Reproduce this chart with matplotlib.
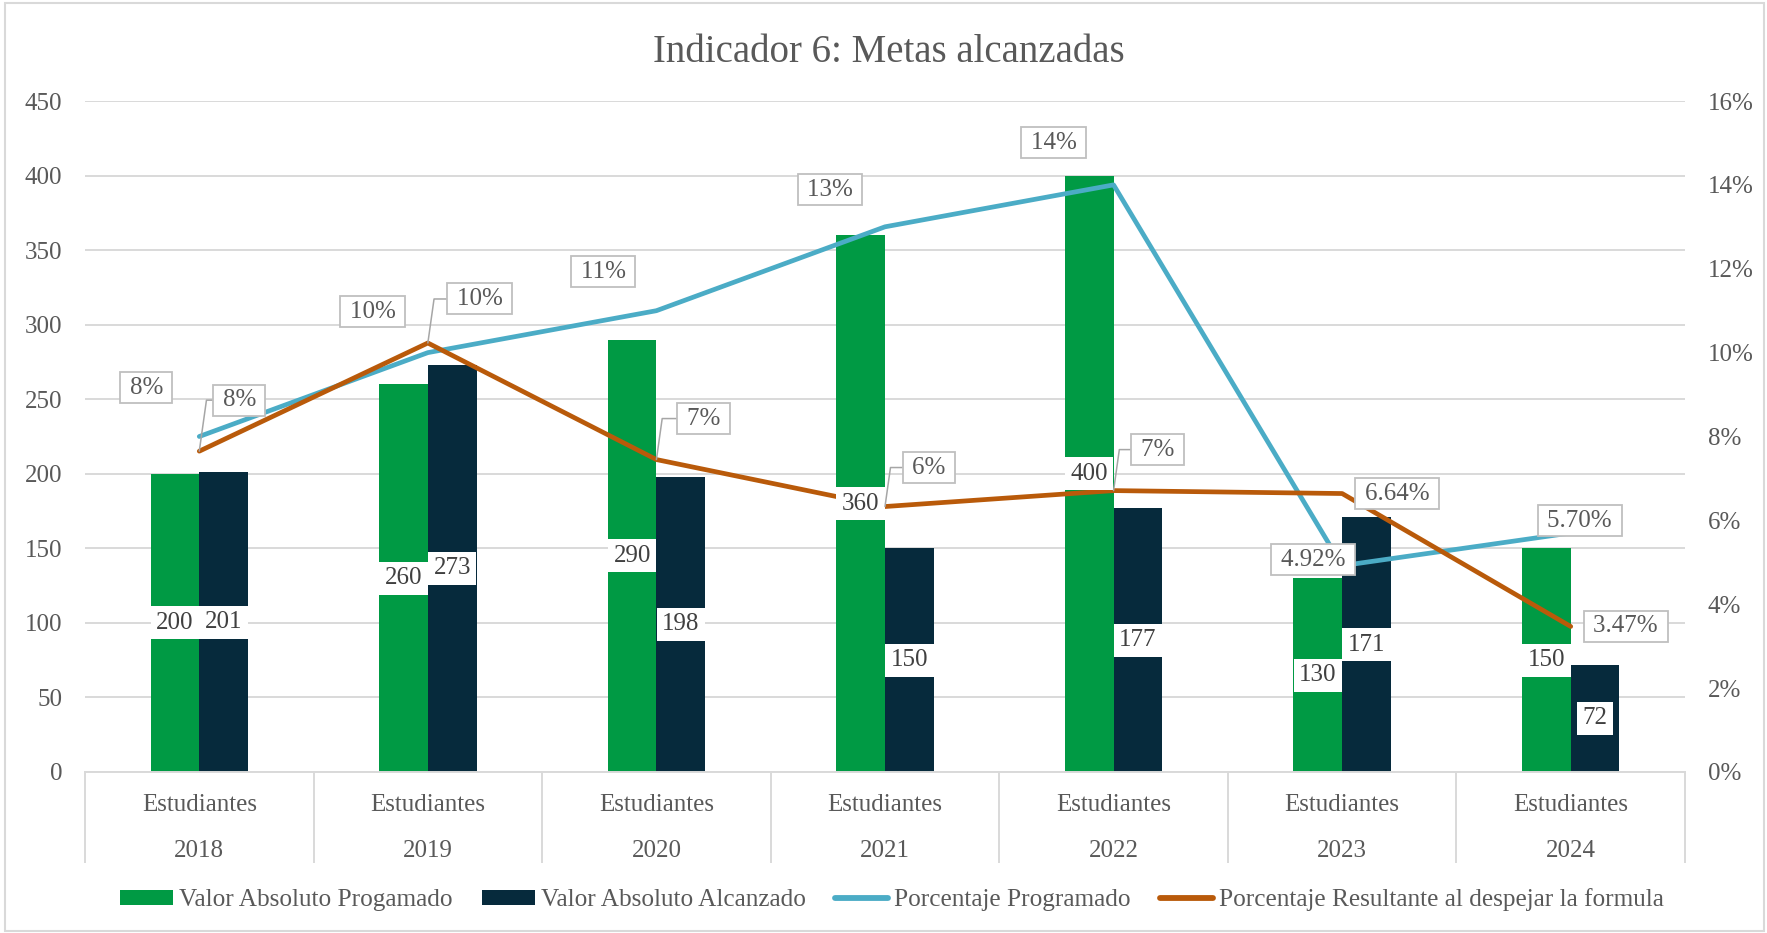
import matplotlib
matplotlib.use("Agg")
import matplotlib.pyplot as plt
import matplotlib.transforms as mtransforms
from matplotlib.patches import Rectangle, Patch
from matplotlib.lines import Line2D
from matplotlib.ticker import FuncFormatter

# ---------------- data ----------------
title = "Indicador 6: Metas alcanzadas"
categories = ["Estudiantes"] * 7
years = ["2018", "2019", "2020", "2021", "2022", "2023", "2024"]
programado = [200, 260, 290, 360, 400, 130, 150]
alcanzado = [201, 273, 198, 150, 177, 171, 72]
pct_programado = [8.0, 10.0, 11.0, 13.0, 14.0, 4.92, 5.70]
pct_resultante = [7.65, 10.23, 7.45, 6.33, 6.71, 6.64, 3.47]
pct_prog_labels = ["8%", "10%", "11%", "13%", "14%", "4.92%", "5.70%"]
pct_res_labels = ["8%", "10%", "7%", "6%", "7%", "6.64%", "3.47%"]
left_ticks = [0, 50, 100, 150, 200, 250, 300, 350, 400, 450]
right_ticks = [0, 2, 4, 6, 8, 10, 12, 14, 16]
series_names = ["Valor Absoluto Progamado", "Valor Absoluto Alcanzado",
                "Porcentaje Programado", "Porcentaje Resultante al despejar la formula"]

# ---------------- layout / style ----------------
W, H = 1767, 933
GREEN = "#009A44"
NAVY = "#062A3C"
BLUE = "#4BACC6"
ORANGE = "#B95A0A"
GRID = "#D9D9D9"
TXT = "#595959"
LBL = "#404040"
FS = 18

# label offsets in output pixels (dx, dy with y up)
prog_offsets = [(-53, 49), (-55, 41), (-53, 39), (-55, 37), (-60, 42), (-29, 6), (9, 12)]
res_offsets = [(40, 51), (52, 44), (47, 41), (44, 39), (44, 41), (55, 0), (55, 0)]
res_leader = [True, True, True, True, True, False, False]

plt.rcParams["font.family"] = ["Liberation Serif", "DejaVu Serif"]

fig = plt.figure(figsize=(W / 100, H / 100), dpi=100)
fig.patch.set_facecolor("white")
fig.patches.append(Rectangle((5 / W, 2 / H), 1 - 8 / W, 1 - 5 / H, transform=fig.transFigure,
                             fill=False, edgecolor=GRID, lw=1.5))

ax_l, ax_r, ax_t, ax_b = 85, 1685, 101, 772
ax = fig.add_axes([ax_l / W, 1 - ax_b / H, (ax_r - ax_l) / W, (ax_b - ax_t) / H])
ax2 = ax.twinx()

x = list(range(len(years)))
bw = 0.213
xg = [i - bw / 2 for i in x]
xn = [i + bw / 2 for i in x]

ax.bar(xg, programado, bw, color=GREEN, zorder=2, linewidth=0)
ax.bar(xn, alcanzado, bw, color=NAVY, zorder=2, linewidth=0)

ax.set_xlim(-0.5, len(years) - 0.5)
ax.set_ylim(0, 450)
ax.set_yticks(left_ticks)
ax.yaxis.grid(True, color=GRID, lw=1.4)
ax.set_axisbelow(True)
ax.set_xticks([])
for s in ["top", "left", "right"]:
    ax.spines[s].set_visible(False)
ax.spines["bottom"].set_color(GRID)
ax.spines["bottom"].set_linewidth(1.4)
ax.tick_params(axis="y", length=0, pad=16.5, labelsize=FS, labelcolor=TXT)

ax2.set_ylim(0, 16)
ax2.set_yticks(right_ticks)
ax2.yaxis.set_major_formatter(FuncFormatter(lambda v, p: f"{int(v)}%"))
ax2.tick_params(axis="y", length=0, pad=16.5, labelsize=FS, labelcolor=TXT)
for s in ax2.spines.values():
    s.set_visible(False)

ax2.plot(x, pct_programado, color=BLUE, lw=3.4, solid_capstyle="round",
         solid_joinstyle="round", zorder=3)
ax2.plot(x, pct_resultante, color=ORANGE, lw=3.4, solid_capstyle="round",
         solid_joinstyle="round", zorder=3)

# bar value labels (centered)
for xs, vals in ((xg, programado), (xn, alcanzado)):
    for xi, v in zip(xs, vals):
        ax2.text(xi, v / 2, str(v), transform=ax.transData, ha="center", va="center",
                 fontsize=FS, color=LBL, zorder=10,
                 bbox=dict(boxstyle="square,pad=0.22", fc="white", ec="none"))

# percentage labels
box_style = dict(boxstyle="square,pad=0.18", fc="white", ec="#BFBFBF", lw=1.3)
TS = "\u2009"
for xi, v, lab, (dx, dy) in zip(x, pct_programado, pct_prog_labels, prog_offsets):
    ax2.annotate(TS + lab + TS, xy=(xi, v), xytext=(dx, dy), textcoords="offset pixels",
                 ha="center", va="center", fontsize=FS, color=TXT, zorder=11,
                 bbox=box_style)
for xi, v, lab, (dx, dy), lead in zip(x, pct_resultante, pct_res_labels, res_offsets, res_leader):
    ap = None
    if lead:
        ap = dict(arrowstyle="-", color="#A6A6A6", lw=1.1, shrinkA=0, shrinkB=0,
                  relpos=(0, 0.5), connectionstyle="angle,angleA=0,angleB=82,rad=0")
    ax2.annotate(TS + lab + TS, xy=(xi, v), xytext=(dx, dy), textcoords="offset pixels",
                 ha="center", va="center", fontsize=FS, color=TXT, zorder=11,
                 bbox=box_style, arrowprops=ap)

# two-level category axis
blend = mtransforms.blended_transform_factory(ax.transData, fig.transFigure)
for i, (c, yv) in enumerate(zip(categories, years)):
    ax.text(i, 1 - 811 / H, c, transform=blend, ha="center", va="baseline",
            fontsize=FS, color=TXT)
    ax.text(i, 1 - 857 / H, yv, transform=blend, ha="center", va="baseline",
            fontsize=FS, color=TXT)
for k in range(len(years) + 1):
    ax.add_line(Line2D([k - 0.5, k - 0.5], [1 - ax_b / H, 1 - 862 / H], transform=blend,
                       color=GRID, lw=1.4, clip_on=False))

# title
fig.text(889 / W, 1 - 61.5 / H, title, ha="center", va="baseline", fontsize=28, color=TXT)

# legend
handles = [Patch(facecolor=GREEN, edgecolor="none"),
           Patch(facecolor=NAVY, edgecolor="none"),
           Line2D([], [], color=BLUE, lw=4.2, solid_capstyle="round"),
           Line2D([], [], color=ORANGE, lw=4.2, solid_capstyle="round")]
fig.legend(handles, series_names, loc="center", bbox_to_anchor=(892 / W, 1 - 900 / H),
           ncol=4, frameon=False, fontsize=18.2, handlelength=2.1, handleheight=0.5,
           handletextpad=0.25, columnspacing=1.15, labelcolor=TXT, borderpad=0)

fig.savefig("out.png", dpi=100, facecolor="white")
